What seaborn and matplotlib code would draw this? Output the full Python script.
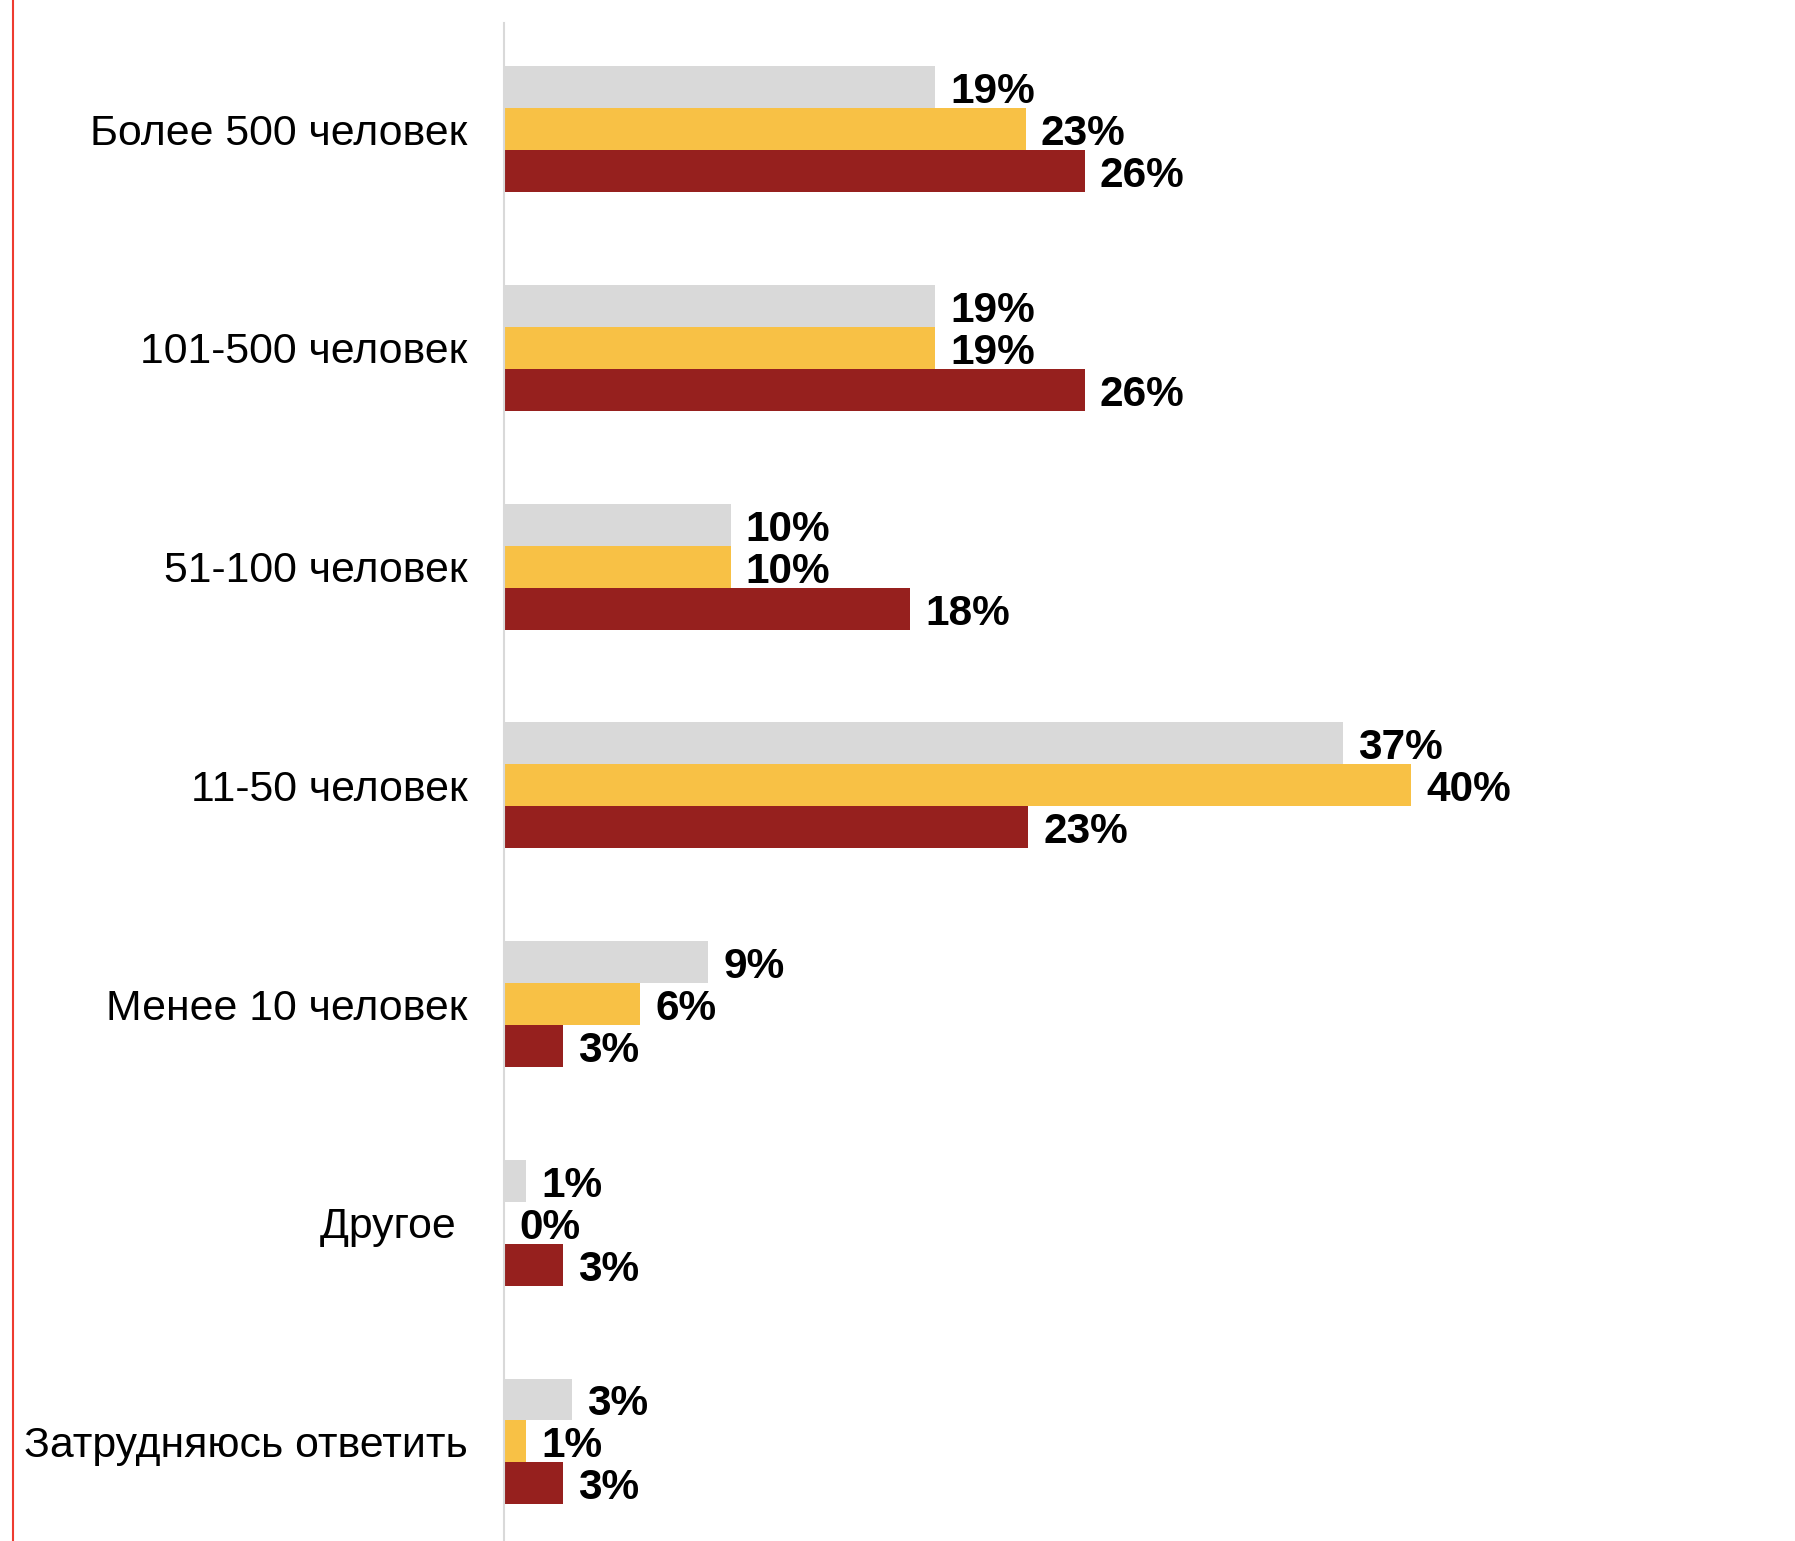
import matplotlib
matplotlib.use("Agg")
import matplotlib.pyplot as plt
import seaborn as sns
import pandas as pd
from matplotlib.lines import Line2D

categories = ["Более 500 человек", "101-500 человек", "51-100 человек",
              "11-50 человек", "Менее 10 человек", "Другое ", "Затрудняюсь ответить"]
series_names = ["Серия 1", "Серия 2", "Серия 3"]
gray_values = [19, 19, 10, 37, 9, 1, 3]
yellow_values = [23, 19, 10, 40, 6, 0, 1]
red_values = [25.6, 25.6, 17.9, 23.1, 2.6, 2.6, 2.6]
colors = ["#d9d9d9", "#f8c145", "#96201e"]

all_values = [gray_values, yellow_values, red_values]
rows = []
for name, vals in zip(series_names, all_values):
    for cat, v in zip(categories, vals):
        rows.append({"category": cat, "series": name, "value": v})
df = pd.DataFrame(rows)

sns.set_theme(style="white")
plt.rcParams['font.family'] = ['Liberation Sans', 'DejaVu Sans']

fig = plt.figure(figsize=(17.95, 15.41), dpi=100)
ax = fig.add_axes([503.7 / 1795, 0, 0.632, 1 - 23 / 1541])
sns.barplot(data=df, y="category", x="value", hue="series", order=categories,
            hue_order=series_names, palette=colors, orient="h", width=0.576,
            saturation=1, linewidth=0, legend=False, ax=ax, errorbar=None)

ax.set_xlim(0, 50)
ax.set_ylim(6.455, -0.486)
for s in ["top", "right", "bottom"]:
    ax.spines[s].set_visible(False)
ax.spines["left"].set_color("#d9d9d9")
ax.spines["left"].set_linewidth(1.5)
ax.set_xticks([])
ax.set_xlabel("")
ax.set_ylabel("")
ax.tick_params(axis="y", length=0, pad=26, labelsize=30.8, labelcolor="black")

for cont, vals in zip(ax.containers, all_values):
    for rect, v in zip(cont, vals):
        y = rect.get_y() + rect.get_height() / 2
        x = rect.get_x() + rect.get_width()
        ax.annotate(f"{v:.0f}%", (x, y), xytext=(11, -3.5),
                    textcoords="offset points", ha="left", va="center",
                    fontsize=30.5, fontweight="bold", color="black")

fig.add_artist(Line2D([13 / 1795] * 2, [0, 1], transform=fig.transFigure,
                      color="#ee3b30", lw=1.5))

fig.savefig("out.png", dpi=100)
